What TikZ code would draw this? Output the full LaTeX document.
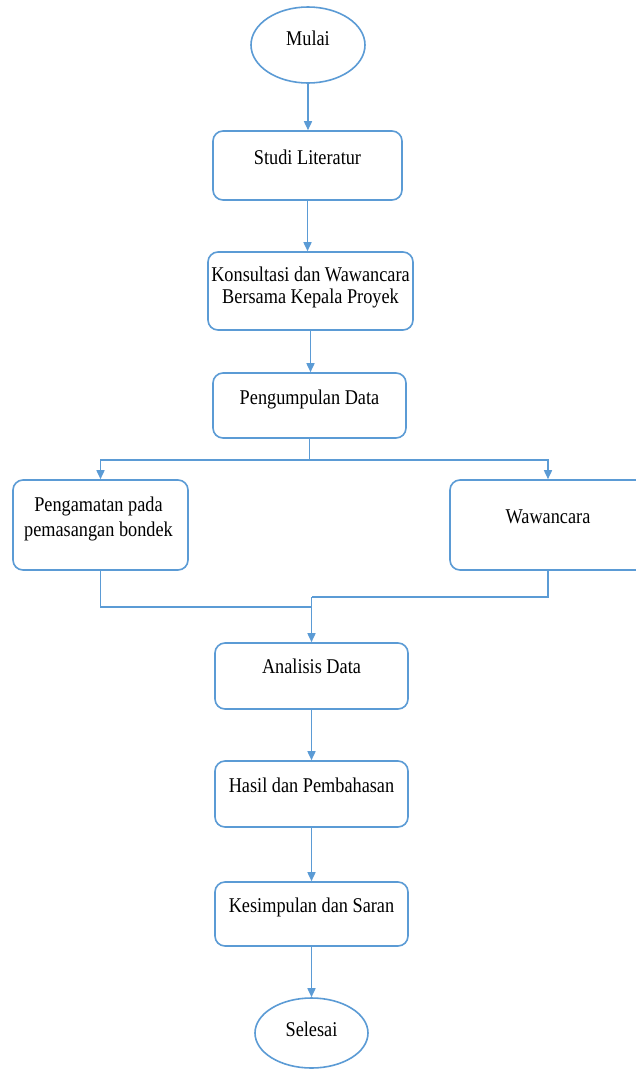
\documentclass[tikz,border=0pt]{standalone}
\usepackage{fontspec}
\setmainfont{Liberation Serif}[FakeStretch=0.87]
\usetikzlibrary{arrows.meta,calc,shapes.geometric}
\definecolor{fc}{HTML}{5B9BD5}
\begin{document}
\begin{tikzpicture}[x=1pt,y=-1pt,
  box/.style={draw=fc, line width=1.6pt, rounded corners=10pt, fill=white, inner sep=0pt},
  term/.style={draw=fc, line width=1.6pt, ellipse, fill=white, inner sep=0pt},
  lbl/.style={font=\fontsize{21}{22}\selectfont, anchor=base, align=center, inner sep=0pt},
  conn/.style={draw=fc, line width=1.6pt},
  arr/.style={conn, -{Triangle[length=9pt,width=8pt]}}]
\useasboundingbox (0,0) rectangle (636,1072);
\clip (0,0) rectangle (636,1072);
\fill[white] (0,0) rectangle (636,1072);

% shapes
\node[term, minimum width=114pt, minimum height=76pt] (mulai) at (308,45) {};
\node[box, minimum width=189pt, minimum height=69pt] (studi) at (307.5,165.5) {};
\node[box, minimum width=205pt, minimum height=78pt] (konsul) at (310.5,291) {};
\node[box, minimum width=193pt, minimum height=65pt] (peng) at (309.5,405.5) {};
\node[box, minimum width=175pt, minimum height=90pt] (amat) at (100.5,525) {};
\node[box, minimum width=196pt, minimum height=90pt] (waw) at (548,525) {};
\node[box, minimum width=193pt, minimum height=66pt] (anal) at (311.5,676) {};
\node[box, minimum width=193pt, minimum height=66pt] (hasil) at (311.5,794) {};
\node[box, minimum width=193pt, minimum height=64pt] (kesim) at (311.5,914) {};
\node[term, minimum width=113pt, minimum height=70pt] (selesai) at (311.5,1033) {};

% labels
\node[lbl] (mulai-t) at (308,45) {Mulai};
\node[lbl] (studi-t) at (307.5,164) {Studi Literatur};
\node[lbl, font=\fontsize{21}{21.5}\selectfont] (konsul-t) at (310.5,303) {Konsultasi dan Wawancara\\Bersama Kepala Proyek};
\node[lbl] (peng-t) at (309.5,404) {Pengumpulan Data};
\node[lbl, font=\fontsize{21}{24.5}\selectfont] (amat-t) at (98.5,536) {Pengamatan pada\\pemasangan bondek};
\node[lbl] (waw-t) at (548,523) {Wawancara};
\node[lbl] (anal-t) at (311.5,673) {Analisis Data};
\node[lbl] (hasil-t) at (311.5,792) {Hasil dan Pembahasan};
\node[lbl] (kesim-t) at (311.5,912) {Kesimpulan dan Saran};
\node[lbl] (selesai-t) at (311.5,1036) {Selesai};

% connectors
\draw[arr] (mulai.south) -- (mulai.south |- studi.north);
\draw[arr] (studi.south) -- (studi.south |- konsul.north);
\draw[arr] (konsul.south) -- (konsul.south |- peng.north);
\coordinate (split) at (309.5,460);
\draw[conn] (peng.south) -- (split);
\draw[arr] (split) -| (amat.north);
\draw[arr] (split) -| (waw.north);
\coordinate (joinL) at (311.5,607);
\coordinate (joinR) at (311.5,597);
\draw[conn] (amat.south) |- (joinL);
\draw[conn] (waw.south) |- (joinR);
\draw[arr] (joinR) -- (anal.north);
\draw[arr] (anal.south) -- (hasil.north);
\draw[arr] (hasil.south) -- (kesim.north);
\draw[arr] (kesim.south) -- (selesai.north);
\end{tikzpicture}
\end{document}
